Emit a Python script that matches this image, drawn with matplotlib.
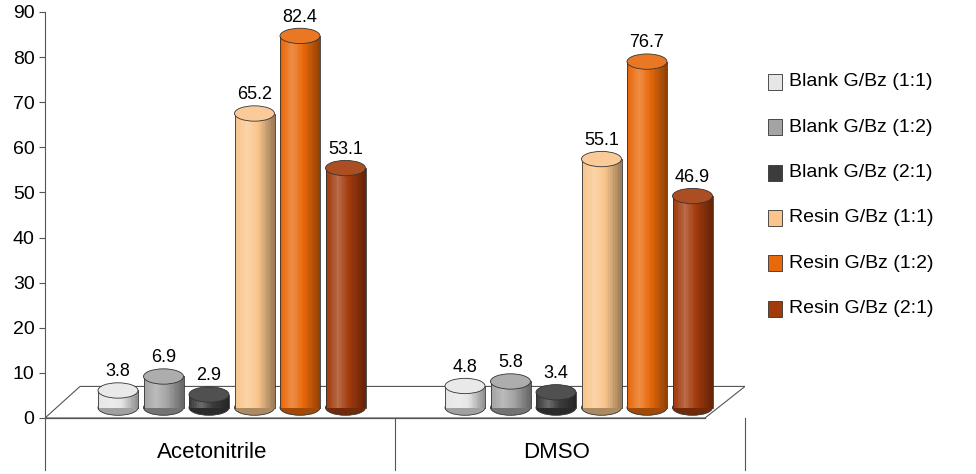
import matplotlib
matplotlib.use("Agg")
import matplotlib.pyplot as plt
from matplotlib.patches import Ellipse, Rectangle, Polygon
import numpy as np

plt.rcParams["font.family"] = "Liberation Sans"

categories = ["Acetonitrile", "DMSO"]
series = ["Blank G/Bz (1:1)", "Blank G/Bz (1:2)", "Blank G/Bz (2:1)",
          "Resin G/Bz (1:1)", "Resin G/Bz (1:2)", "Resin G/Bz (2:1)"]
values = [[3.8, 6.9, 2.9, 65.2, 82.4, 53.1],
          [4.8, 5.8, 3.4, 55.1, 76.7, 46.9]]
colors = ["#e6e6e6", "#a4a4a4", "#3c3c3c", "#f9c58c", "#e8680a", "#a23a0c"]
yticks = list(range(0, 91, 10))

fig = plt.figure(figsize=(9.76, 4.74), dpi=100)
ax = fig.add_axes([45/976, 1-418/474, 700/976, 406/474])
ax.set_xlim(45, 745)
ax.set_ylim(0, 90)
for s in ["top", "right", "bottom"]:
    ax.spines[s].set_visible(False)
ax.spines["left"].set_color("#555")
ax.set_yticks(yticks)
ax.tick_params(axis="y", labelsize=14, direction="out", length=4, colors="#555", labelcolor="black")
ax.set_xticks([])

# floor
ax.add_patch(Polygon([(45, 0), (705, 0), (745, 7), (80, 7)], closed=True,
                     facecolor="white", edgecolor="#555", lw=0.8, zorder=1))
ax.plot([45, 705], [0, 0], color="#555", lw=0.8, clip_on=False)

group_start = [118, 465]
step = 45.5
w = 40
base = 2.3
eh = 3.4

def shade(c, f):
    c = np.array(matplotlib.colors.to_rgb(c))
    return np.clip(c * f if f < 1 else c + (1 - c) * (f - 1), 0, 1)

for g, cat in enumerate(categories):
    for i, v in enumerate(values[g]):
        xc = group_start[g] + i * step
        top = base + v
        n = 24
        for k in range(n):
            t = k / (n - 1)
            f = 1.25 - 0.55 * abs(t - 0.3) ** 1.0 * 1.6
            ax.add_patch(Rectangle((xc - w/2 + k * w / n, base), w / n + 0.3, v,
                                   facecolor=shade(colors[i], max(f, 0.55)),
                                   edgecolor="none", zorder=2))
        ax.add_patch(Ellipse((xc, base), w, eh, facecolor=shade(colors[i], 0.7),
                             edgecolor="#333", lw=0.6, zorder=1.9))
        ax.plot([xc - w/2, xc - w/2], [base, top], color="#333", lw=0.6, zorder=3)
        ax.plot([xc + w/2, xc + w/2], [base, top], color="#333", lw=0.6, zorder=3)
        ax.add_patch(Ellipse((xc, top), w, eh, facecolor=shade(colors[i], 1.1),
                             edgecolor="#333", lw=0.6, zorder=4))
        ax.text(xc, top + eh/2 + 0.6, f"{v}", ha="center", va="bottom",
                fontsize=13, zorder=5)

# category labels and separators
for x in [45, 395, 745]:
    fig.add_artist(plt.Line2D([x/976, x/976], [1-418/474, 1-470/474],
                              color="#555", lw=0.8))
fig.add_artist(plt.Line2D([45/976, 705/976], [1-418/474, 1-418/474], color="#555", lw=0.8))
for cat, x in zip(categories, [212, 557]):
    fig.text(x/976, 1-452/474, cat, ha="center", va="center", fontsize=16)

# legend
for i, (name, c) in enumerate(zip(series, colors)):
    y = 82 + i * 45.3
    fig.add_artist(Rectangle(((768)/976, 1-(y+8)/474), 14/976, 16/474,
                             facecolor=c, edgecolor="#333", lw=0.6,
                             transform=fig.transFigure))
    fig.text(789/976, 1-y/474, name, ha="left", va="center", fontsize=14)

fig.savefig("out.png", dpi=100)
